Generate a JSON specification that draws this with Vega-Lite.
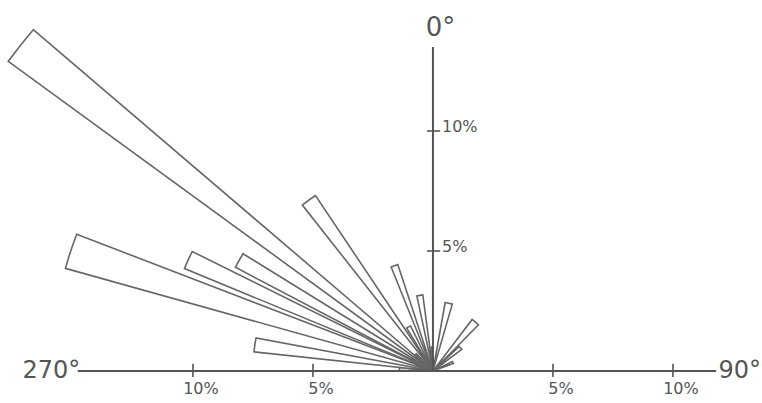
{
  "$schema": "https://vega.github.io/schema/vega-lite/v6.json",
  "width": 762,
  "height": 403,
  "autosize": {"type": "fit", "contains": "padding"},
  "padding": 0,
  "background": "white",
  "config": {"view": {"stroke": null}},
  "datasets": {
    "petals": [
      {"az0": 271.0, "az1": 276.0, "pct": 1.4},
      {"az0": 276.1, "az1": 280.6, "pct": 7.5},
      {"az0": 285.6, "az1": 291.0, "pct": 15.9},
      {"az0": 292.4, "az1": 296.4, "pct": 11.2},
      {"az0": 297.7, "az1": 301.7, "pct": 9.3},
      {"az0": 306.1, "az1": 310.5, "pct": 21.9},
      {"az0": 312.0, "az1": 316.0, "pct": 1.0},
      {"az0": 321.8, "az1": 326.2, "pct": 8.8},
      {"az0": 328.5, "az1": 333.5, "pct": 2.1},
      {"az0": 338.1, "az1": 341.7, "pct": 4.67},
      {"az0": 347.9, "az1": 352.4, "pct": 3.2},
      {"az0": 356.0, "az1": 360.0, "pct": 1.0},
      {"az0": 10.1, "az1": 16.1, "pct": 2.9},
      {"az0": 37.2, "az1": 44.6, "pct": 2.7},
      {"az0": 47.0, "az1": 53.0, "pct": 1.5},
      {"az0": 64.0, "az1": 70.0, "pct": 0.9}
    ],
    "axes": [
      {"name": "horizontal", "a0": -14.8, "a1": 11.8}
    ],
    "vaxis": [
      {"name": "vertical", "a0": 0, "a1": 13.5}
    ],
    "hticks": [
      {"v": -10, "label": "10%"},
      {"v": -5, "label": "5%"},
      {"v": 5, "label": "5%"},
      {"v": 10, "label": "10%"}
    ],
    "vticks": [
      {"v": 5, "label": "5%"},
      {"v": 10, "label": "10%"}
    ],
    "dirs": [
      {"dir": "270°", "px": -17.1, "py": 0.0, "size": 24},
      {"dir": "90°", "px": 11.9, "py": 0.0, "size": 24},
      {"dir": "0°", "px": -0.3, "py": 14.3, "size": 26}
    ]
  },
  "layer": [
    {
      "data": {"name": "petals"},
      "mark": {"type": "arc", "fill": "white", "stroke": "#666666", "strokeWidth": 1.6, "strokeJoin": "miter"},
      "encoding": {
        "x": {"datum": 0, "type": "quantitative", "scale": {"domain": [-18.04, 13.71], "nice": false, "zero": false}, "axis": null},
        "y": {"datum": 0, "type": "quantitative", "scale": {"domain": [-1.333, 15.46], "nice": false, "zero": false}, "axis": null},
        "theta": {"field": "az0", "type": "quantitative", "stack": null, "scale": {"type": "linear", "domain": [0, 360], "range": [0, 6.283185307179586]}},
        "theta2": {"field": "az1"},
        "radius": {"field": "pct", "type": "quantitative", "scale": {"type": "linear", "domain": [0, 10], "range": [0, 240], "zero": true}}
      }
    },
    {
      "data": {"name": "axes"},
      "mark": {"type": "rule", "color": "#555555", "strokeWidth": 2},
      "encoding": {
        "x": {"field": "a0", "type": "quantitative"},
        "x2": {"field": "a1"},
        "y": {"datum": 0, "type": "quantitative"}
      }
    },
    {
      "data": {"name": "vaxis"},
      "mark": {"type": "rule", "color": "#555555", "strokeWidth": 2},
      "encoding": {
        "x": {"datum": 0, "type": "quantitative"},
        "y": {"field": "a0", "type": "quantitative"},
        "y2": {"field": "a1"}
      }
    },
    {
      "data": {"name": "hticks"},
      "mark": {"type": "rule", "color": "#555555", "strokeWidth": 1.6},
      "encoding": {
        "x": {"field": "v", "type": "quantitative"},
        "y": {"datum": -0.25, "type": "quantitative"},
        "y2": {"datum": 0.3}
      }
    },
    {
      "data": {"name": "vticks"},
      "mark": {"type": "rule", "color": "#555555", "strokeWidth": 1.6},
      "encoding": {
        "y": {"field": "v", "type": "quantitative"},
        "x": {"datum": -0.25, "type": "quantitative"},
        "x2": {"datum": 0.3}
      }
    },
    {
      "data": {"name": "hticks"},
      "mark": {"type": "text", "font": "DejaVu Sans", "fontSize": 16, "color": "#555555", "align": "center", "baseline": "middle", "dx": 8, "dy": 18},
      "encoding": {
        "x": {"field": "v", "type": "quantitative"},
        "y": {"datum": 0, "type": "quantitative"},
        "text": {"field": "label"}
      }
    },
    {
      "data": {"name": "vticks"},
      "mark": {"type": "text", "font": "DejaVu Sans", "fontSize": 16, "color": "#555555", "align": "left", "baseline": "middle", "dx": 9, "dy": -4},
      "encoding": {
        "y": {"field": "v", "type": "quantitative"},
        "x": {"datum": 0, "type": "quantitative"},
        "text": {"field": "label"}
      }
    },
    {
      "data": {"name": "dirs"},
      "mark": {"type": "text", "font": "DejaVu Sans", "color": "#555555", "align": "left", "baseline": "middle"},
      "encoding": {
        "x": {"field": "px", "type": "quantitative"},
        "y": {"field": "py", "type": "quantitative"},
        "size": {"field": "size", "type": "quantitative", "scale": null},
        "text": {"field": "dir"}
      }
    }
  ]
}
